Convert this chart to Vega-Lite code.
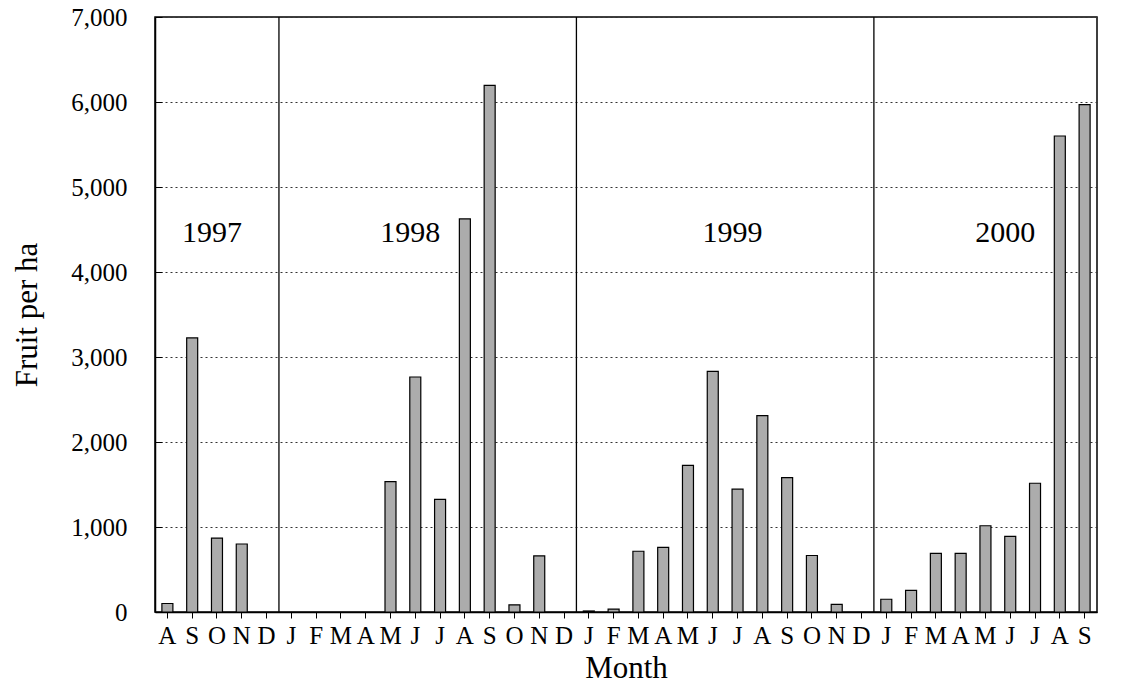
{
  "$schema": "https://vega.github.io/schema/vega-lite/v6.json",
  "width": 942,
  "height": 595,
  "autosize": {"type": "none"},
  "padding": {"left": 155, "top": 17, "right": 25, "bottom": 75},
  "background": "white",
  "config": {
    "view": {"stroke": "black", "strokeWidth": 1.5},
    "font": "Liberation Serif",
    "axis": {
      "labelFont": "Liberation Serif",
      "labelFontSize": 25,
      "labelColor": "black",
      "titleFont": "Liberation Serif",
      "titleFontSize": 31,
      "titleFontWeight": "normal",
      "titleColor": "black",
      "domainColor": "black",
      "domainWidth": 1.5,
      "tickColor": "black"
    }
  },
  "datasets": {
    "bars": [
      {"month": "1997-08", "fruit": 100},
      {"month": "1997-09", "fruit": 3225},
      {"month": "1997-10", "fruit": 870},
      {"month": "1997-11", "fruit": 800},
      {"month": "1997-12", "fruit": null},
      {"month": "1998-01", "fruit": null},
      {"month": "1998-02", "fruit": null},
      {"month": "1998-03", "fruit": null},
      {"month": "1998-04", "fruit": null},
      {"month": "1998-05", "fruit": 1535},
      {"month": "1998-06", "fruit": 2765},
      {"month": "1998-07", "fruit": 1325},
      {"month": "1998-08", "fruit": 4625},
      {"month": "1998-09", "fruit": 6195},
      {"month": "1998-10", "fruit": 85},
      {"month": "1998-11", "fruit": 660},
      {"month": "1998-12", "fruit": null},
      {"month": "1999-01", "fruit": 12},
      {"month": "1999-02", "fruit": 35},
      {"month": "1999-03", "fruit": 715},
      {"month": "1999-04", "fruit": 760},
      {"month": "1999-05", "fruit": 1725},
      {"month": "1999-06", "fruit": 2830},
      {"month": "1999-07", "fruit": 1445},
      {"month": "1999-08", "fruit": 2310},
      {"month": "1999-09", "fruit": 1580},
      {"month": "1999-10", "fruit": 665},
      {"month": "1999-11", "fruit": 90},
      {"month": "1999-12", "fruit": null},
      {"month": "2000-01", "fruit": 150},
      {"month": "2000-02", "fruit": 255},
      {"month": "2000-03", "fruit": 690},
      {"month": "2000-04", "fruit": 690},
      {"month": "2000-05", "fruit": 1015},
      {"month": "2000-06", "fruit": 890},
      {"month": "2000-07", "fruit": 1515},
      {"month": "2000-08", "fruit": 5600},
      {"month": "2000-09", "fruit": 5970}
    ],
    "dividers": [
      {"month": "1998-01"},
      {"month": "1999-01"},
      {"month": "2000-01"}
    ],
    "years": [
      {"month": "1997-10", "year": "1997", "y": 4460},
      {"month": "1998-06", "year": "1998", "y": 4460},
      {"month": "1999-07", "year": "1999", "y": 4460},
      {"month": "2000-06", "year": "2000", "y": 4460}
    ]
  },
  "layer": [
    {
      "data": {"name": "bars"},
      "mark": {"type": "bar", "size": 11, "fill": "#acacac", "stroke": "black", "strokeWidth": 1.2},
      "encoding": {
        "x": {
          "field": "month",
          "type": "ordinal",
          "scale": {
            "domain": ["1997-08","1997-09","1997-10","1997-11","1997-12",
                       "1998-01","1998-02","1998-03","1998-04","1998-05","1998-06","1998-07","1998-08","1998-09","1998-10","1998-11","1998-12",
                       "1999-01","1999-02","1999-03","1999-04","1999-05","1999-06","1999-07","1999-08","1999-09","1999-10","1999-11","1999-12",
                       "2000-01","2000-02","2000-03","2000-04","2000-05","2000-06","2000-07","2000-08","2000-09"],
            "paddingInner": 0,
            "paddingOuter": 0
          },
          "axis": {
            "title": "Month",
            "labelAngle": 0,
            "labelExpr": "['J','F','M','A','M','J','J','A','S','O','N','D'][toNumber(slice(datum.value,5,7))-1]",
            "tickSize": 6,
            "labelPadding": 5,
            "titlePadding": 5,
            "grid": false
          }
        },
        "y": {
          "field": "fruit",
          "type": "quantitative",
          "scale": {"domain": [0, 7000]},
          "axis": {
            "title": "Fruit per ha",
            "values": [0, 1000, 2000, 3000, 4000, 5000, 6000, 7000],
            "format": ",d",
            "tickSize": -7,
            "labelPadding": 35,
            "titlePadding": 27,
            "grid": true,
            "gridDash": [2, 3],
            "gridColor": "#333333",
            "gridWidth": 1
          }
        }
      }
    },
    {
      "data": {"name": "dividers"},
      "mark": {"type": "rule", "color": "black", "strokeWidth": 1.3},
      "encoding": {
        "x": {"field": "month", "type": "ordinal", "bandPosition": 0}
      }
    },
    {
      "data": {"name": "years"},
      "mark": {"type": "text", "fontSize": 30, "font": "Liberation Serif", "color": "black", "baseline": "middle"},
      "encoding": {
        "x": {"field": "month", "type": "ordinal", "bandPosition": 0.3},
        "y": {"field": "y", "type": "quantitative"},
        "text": {"field": "year"}
      }
    }
  ]
}
